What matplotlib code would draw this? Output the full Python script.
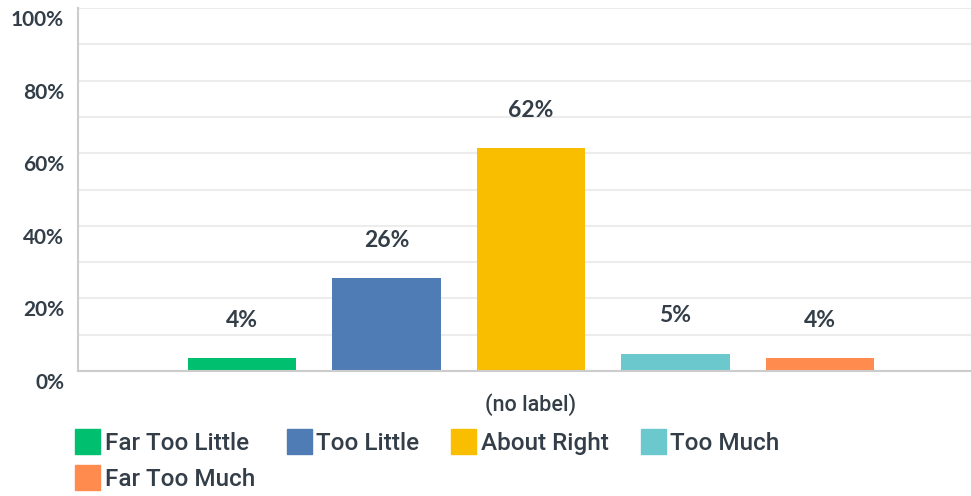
import numpy as np
import matplotlib
matplotlib.use("Agg")
import matplotlib.pyplot as plt
import matplotlib.transforms as mtrans

# Data
categories = ["Far Too Little", "Too Little", "About Right", "Too Much", "Far Too Much"]
values = [3.5, 25.6, 61.3, 4.7, 3.5]
value_labels = ["4%", "26%", "62%", "5%", "4%"]
colors = ["#00bf6f", "#507cb6", "#f9be00", "#6bc8cd", "#ff8b4f"]
yticks = [0, 20, 40, 60, 80, 100]
ytick_labels = ["0%", "20%", "40%", "60%", "80%", "100%"]
group_label = "(no label)"

text_color = "#333e48"
W, H = 971, 496
fig = plt.figure(figsize=(W / 100, H / 100), dpi=100)
ax = fig.add_axes([78 / W, (H - 371) / H, (971 - 78) / W, (371 - 8) / H])

xs = np.arange(len(categories))
ax.bar(xs, values, width=0.754, color=colors, zorder=3)

for x, v, lab in zip(xs, values, value_labels):
    ax.annotate(lab, (x, v), xytext=(0, 38), textcoords="offset pixels",
                ha="center", va="center", fontsize=16.5, fontweight="bold",
                color=text_color, family="Lato")

ax.set_xlim(-1.135, 5.045)
ax.set_ylim(0, 100)
ax.set_yticks(yticks)
ax.set_yticklabels(ytick_labels)
ax.set_yticks(np.arange(10, 100, 20), minor=True)
ax.tick_params(axis="y", which="both", length=0, pad=10)
offset = mtrans.ScaledTranslation(0, -2 / 100, fig.dpi_scale_trans)
for t in ax.get_yticklabels():
    t.set_fontfamily("Lato")
    t.set_fontweight("bold")
    t.set_fontsize(15)
    t.set_color(text_color)
    t.set_va("top")
    t.set_transform(t.get_transform() + offset)

ax.set_xticks([])
ax.grid(axis="y", which="both", color="#ececec", linewidth=1.5, zorder=0)
for s in ["top", "right"]:
    ax.spines[s].set_visible(False)
for s in ["left", "bottom"]:
    ax.spines[s].set_color("#cccccc")
    ax.spines[s].set_linewidth(1.5)
ax.spines["bottom"].set_zorder(4)

ax.annotate(group_label, (2, 0), xytext=(0, -34), textcoords="offset pixels",
            ha="center", va="center", fontsize=15.5, color=text_color,
            family="Roboto", fontweight="medium")

# legend filled column-wise, so reorder to read row-wise
order = [0, 4, 1, 2, 3]
handles = [plt.Rectangle((0, 0), 1, 1, color=colors[i]) for i in order]
labels = [categories[i] for i in order]
leg = fig.legend(handles, labels, loc="upper left",
                 bbox_to_anchor=(70 / W, 1 - 424 / H), ncol=4, frameon=False,
                 borderpad=0.2, borderaxespad=0.0,
                 prop={"family": "Roboto", "size": 17.5, "weight": "medium"},
                 handlelength=1.03, handleheight=1.2, handletextpad=0.2,
                 columnspacing=1.3, labelspacing=0.45, labelcolor=text_color)

fig.savefig("out.png", dpi=100)
